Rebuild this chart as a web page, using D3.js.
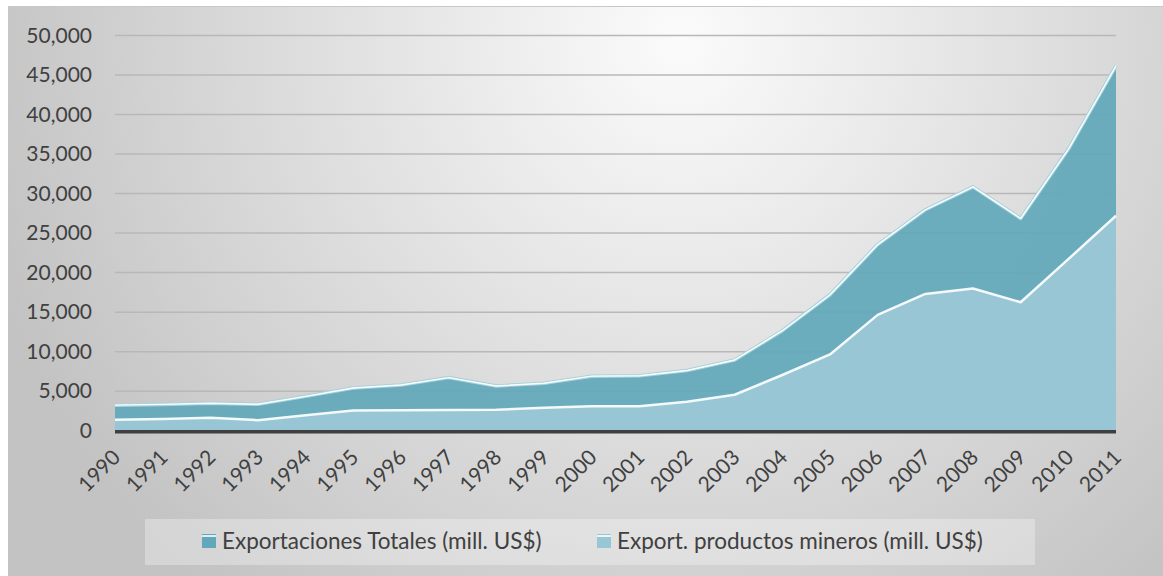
<!DOCTYPE html>
<html>
<head>
<meta charset="utf-8">
<script src="https://cdn.jsdelivr.net/npm/d3@7"></script>
<style>
  html, body { margin: 0; padding: 0; background: #ffffff; }
  svg { display: block; }
  text { font-family: Lato, "Open Sans", sans-serif; fill: #404040; }
</style>
</head>
<body>
<svg id="chart" width="1163" height="576"></svg>
<script>
// Exportaciones del Perú, 1990-2011 (millones de US$)
const years = ["1990","1991","1992","1993","1994","1995","1996","1997","1998","1999","2000",
               "2001","2002","2003","2004","2005","2006","2007","2008","2009","2010","2011"];
const totales = [3230, 3330, 3480, 3350, 4350, 5400, 5780, 6720, 5660, 6000, 6900,
                 6950, 7620, 8950, 12650, 17200, 23550, 27950, 30850, 26850, 35600, 46150];
const mineros = [1400, 1480, 1650, 1330, 1950, 2550, 2600, 2620, 2650, 2900, 3100,
                 3080, 3650, 4550, 7050, 9650, 14650, 17300, 18000, 16250, 21700, 27200];
const yTicks = [0, 5000, 10000, 15000, 20000, 25000, 30000, 35000, 40000, 45000, 50000];
const seriesNames = ["Exportaciones Totales (mill. US$)", "Export. productos mineros (mill. US$)"];
const seriesColors = ["#62a8ba", "#99c6d5"];

const svg = d3.select("#chart");
const W = 1163, H = 576;
const plot = { left: 115, right: 1116, top: 35.5, bottom: 430.7 };

// background panel with soft radial shading
const defs = svg.append("defs");
const grad = defs.append("radialGradient")
  .attr("id", "bg").attr("gradientUnits", "userSpaceOnUse")
  .attr("cx", 680).attr("cy", 40).attr("r", 720);
grad.append("stop").attr("offset", 0).attr("stop-color", "#fbfbfb");
grad.append("stop").attr("offset", 1).attr("stop-color", "#c3c3c3");

svg.append("rect").attr("x", 8).attr("y", 6).attr("width", W - 8).attr("height", H - 6)
  .attr("fill", "url(#bg)");
svg.append("line").attr("x1", 8).attr("x2", W).attr("y1", 6.5).attr("y2", 6.5)
  .attr("stroke", "#c8c8c8").attr("stroke-width", 1);

const x = d3.scalePoint().domain(years).range([plot.left, plot.right]);
const y = d3.scaleLinear().domain([0, 50000]).range([plot.bottom, plot.top]);

// horizontal gridlines
svg.append("g").selectAll("line").data(yTicks.filter(d => d > 0)).join("line")
  .attr("x1", plot.left).attr("x2", plot.right)
  .attr("y1", d => y(d)).attr("y2", d => y(d))
  .attr("stroke", "#b8b8b8").attr("stroke-width", 1.5);

// y axis labels
const yAxis = d3.axisLeft(y).tickValues(yTicks).tickFormat(d3.format(",")).tickSize(0).tickPadding(0);
const gy = svg.append("g").attr("transform", "translate(92,0)").call(yAxis);
gy.select(".domain").remove();
gy.selectAll("text").attr("font-size", 21).attr("fill", "#404040")
  .style("font-family", "Lato, 'Open Sans', sans-serif");

// areas
const area = vals => d3.area()
  .x((d, i) => x(years[i]))
  .y0(y(0))
  .y1(d => y(d))(vals);
const line = vals => d3.line()
  .x((d, i) => x(years[i]))
  .y(d => y(d))(vals);

svg.append("path").attr("d", area(totales)).attr("fill", seriesColors[0]).attr("fill-opacity", 0.92);
svg.append("path").attr("d", line(totales)).attr("fill", "none")
  .attr("stroke", "#a6d3de").attr("stroke-width", 3.5).attr("stroke-linejoin", "round");
svg.append("path").attr("d", line(totales)).attr("fill", "none")
  .attr("stroke", "#ffffff").attr("stroke-width", 1.4).attr("stroke-linejoin", "round");

svg.append("path").attr("d", area(mineros)).attr("fill", seriesColors[1]);
svg.append("path").attr("d", line(mineros)).attr("fill", "none")
  .attr("stroke", "#f4f9fb").attr("stroke-width", 2.5).attr("stroke-linejoin", "round");

// category axis baseline
svg.append("line").attr("x1", plot.left).attr("x2", plot.right)
  .attr("y1", plot.bottom + 1).attr("y2", plot.bottom + 1)
  .attr("stroke", "#3f3f3f").attr("stroke-width", 3.5);

// x axis labels, rotated
const xAxis = d3.axisBottom(x).tickSize(0).tickPadding(0);
const gx = svg.append("g").attr("transform", `translate(0,${plot.bottom})`).call(xAxis);
gx.select(".domain").remove();
gx.selectAll("text")
  .attr("font-size", 21).attr("fill", "#404040")
  .style("font-family", "Lato, 'Open Sans', sans-serif")
  .attr("text-anchor", "end")
  .attr("y", 0).attr("dy", 0)
  .attr("transform", "translate(6,28) rotate(-45)");

// legend
const lg = svg.append("g");
lg.append("rect").attr("x", 145).attr("y", 519).attr("width", 890).attr("height", 46)
  .attr("fill", "#ffffff").attr("fill-opacity", 0.3);
const legendX = [202, 597];
seriesNames.forEach((name, i) => {
  const g = lg.append("g").attr("transform", `translate(${legendX[i]},534)`);
  g.append("rect").attr("width", 14).attr("height", 14).attr("fill", seriesColors[i]);
  g.append("rect").attr("width", 14).attr("height", 2).attr("y", 1).attr("fill", "#ffffff").attr("fill-opacity", 0.8);
  g.append("text").attr("x", 20).attr("y", 7).attr("dy", "0.36em")
    .attr("font-size", 22.5).text(name);
});
</script>
</body>
</html>
